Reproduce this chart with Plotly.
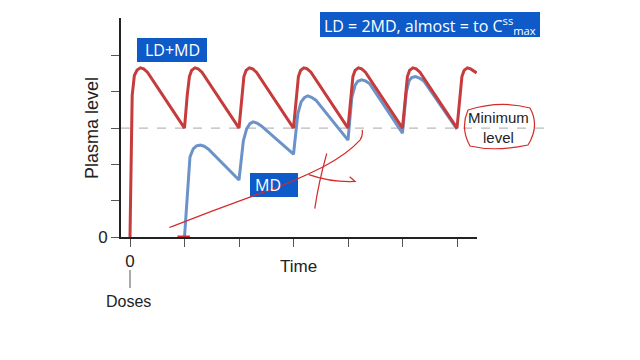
import plotly.graph_objects as go

# ---- data ----
ld_x = [0.0, 0.04, 0.08, 0.13, 0.19, 0.25, 0.32, 1.0,
        1.05, 1.09, 1.13, 1.19, 1.25, 1.32, 2.0,
        2.05, 2.09, 2.13, 2.19, 2.25, 2.32, 3.0,
        3.05, 3.09, 3.13, 3.19, 3.25, 3.32, 4.0,
        4.05, 4.09, 4.13, 4.19, 4.25, 4.32, 5.0,
        5.05, 5.09, 5.13, 5.19, 5.25, 5.32, 6.0,
        6.05, 6.09, 6.13, 6.19, 6.25, 6.32, 6.36]
ld_y = [0.0, 3.9, 4.45, 4.6, 4.66, 4.63, 4.54, 3.0,
        3.9, 4.42, 4.59, 4.66, 4.63, 4.54, 3.0,
        3.9, 4.42, 4.59, 4.66, 4.63, 4.54, 3.0,
        3.9, 4.42, 4.59, 4.66, 4.63, 4.54, 3.0,
        3.9, 4.42, 4.59, 4.66, 4.63, 4.54, 3.0,
        3.9, 4.42, 4.59, 4.66, 4.63, 4.54, 3.0,
        3.9, 4.42, 4.59, 4.66, 4.63, 4.56, 4.52]

md_x = [1.0, 1.1, 1.16, 1.22, 1.29, 1.36, 1.44, 2.0,
        2.08, 2.14, 2.2, 2.26, 2.33, 2.41, 3.0,
        3.08, 3.14, 3.2, 3.26, 3.33, 3.41, 4.0,
        4.07, 4.13, 4.18, 4.25, 4.32, 4.4, 5.0,
        5.07, 5.12, 5.17, 5.24, 5.31, 5.39, 6.0]
md_y = [0.0, 2.2, 2.43, 2.51, 2.53, 2.5, 2.42, 1.57,
        2.65, 2.98, 3.12, 3.17, 3.14, 3.06, 2.28,
        3.4, 3.72, 3.84, 3.89, 3.85, 3.77, 2.67,
        3.85, 4.18, 4.29, 4.33, 4.3, 4.22, 2.86,
        4.0, 4.3, 4.39, 4.42, 4.38, 4.3, 2.97]

y_label_tick = [0]
y_minor_ticks = [1, 2, 3, 4, 5]
x_label_tick = [0]
x_minor_ticks = [1, 2, 3, 4, 5, 6]
minimum_level = 3.0

RED = "#C63B3B"
BLUE = "#6B93C9"
BOX = "#0E5AC8"
INK = "#D42A2A"

# layout geometry (pixels)
L, T, R_EDGE, B_EDGE = 121, 18, 477, 237
W_PX = R_EDGE - L
H_PX = B_EDGE - T


def px(xp):
    return (xp - L) / W_PX


def py(yp):
    return (B_EDGE - yp) / H_PX


fig = go.Figure()
fig.add_trace(go.Scatter(x=md_x, y=md_y, mode="lines",
                         line=dict(color=BLUE, width=3), hoverinfo="skip"))
fig.add_trace(go.Scatter(x=ld_x, y=ld_y, mode="lines",
                         line=dict(color=RED, width=3), hoverinfo="skip"))

shapes = []
# dashed minimum level
shapes.append(dict(type="line", xref="paper", yref="y", x0=0, x1=px(548),
                   y0=minimum_level, y1=minimum_level,
                   line=dict(color="#A8A8A8", width=1, dash="dash"), layer="below"))
# boxes
shapes.append(dict(type="rect", xref="paper", yref="paper", x0=px(137), x1=px(207),
                   y0=py(62), y1=py(38), fillcolor=BOX, line=dict(width=0)))
shapes.append(dict(type="rect", xref="paper", yref="paper", x0=px(320), x1=px(540),
                   y0=py(37), y1=py(12), fillcolor=BOX, line=dict(width=0)))
shapes.append(dict(type="rect", xref="paper", yref="paper", x0=px(250), x1=px(298),
                   y0=py(197), y1=py(173), fillcolor=BOX, line=dict(width=0)))
# Doses marker line
shapes.append(dict(type="line", xref="paper", yref="paper", x0=px(130), x1=px(130),
                   y0=py(270), y1=py(288), line=dict(color="#555", width=1)))
# hand-drawn ink
shapes.append(dict(type="path", xref="x", yref="y",
                   path="M 0.72,0.26 L 0.79,0.30 Q 1.5,0.72 2.2,1.1 Q 2.9,1.45 3.54,1.93 Q 4.0,2.3 4.22,2.67 Q 4.28,2.8 4.26,2.95",
                   line=dict(color=INK, width=1.2)))
shapes.append(dict(type="path", xref="x", yref="y",
                   path="M 3.61,2.3 Q 3.46,1.5 3.39,0.78",
                   line=dict(color=INK, width=1.2)))
shapes.append(dict(type="path", xref="x", yref="y",
                   path="M 3.28,1.72 Q 3.7,1.5 4.13,1.53 L 4.03,1.66",
                   line=dict(color=INK, width=1.2)))
shapes.append(dict(type="line", xref="x", yref="y", x0=0.87, x1=1.1, y0=0.02, y1=0.02,
                   line=dict(color=INK, width=1.5)))
shapes.append(dict(type="path", xref="paper", yref="paper",
                   path=("M %f,%f Q %f,%f %f,%f Q %f,%f %f,%f Q %f,%f %f,%f Q %f,%f %f,%f Z" % (
                       px(468), py(110),
                       px(500), py(100), px(530), py(108),
                       px(540), py(126), px(528), py(145),
                       px(495), py(152), px(470), py(146),
                       px(460), py(128), px(468), py(110))),
                   line=dict(color=INK, width=1.2)))


def note(text, x, y, size, color, family, angle=0):
    return dict(text=text, xref="paper", yref="paper", x=px(x), y=py(y),
                xanchor="center", yanchor="middle", textangle=angle,
                showarrow=False, font=dict(family=family, size=size, color=color))


annotations = [
    note("LD+MD", 172, 50, 16, "white", "Open Sans"),
    note("LD = 2MD, almost = to C<sup>ss</sup><sub>max</sub>", 430, 25, 16, "white", "Open Sans"),
    note("MD", 268, 185, 16, "white", "Open Sans"),
    note("Minimum<br>level", 498, 127, 15, "#222", "Liberation Sans"),
    note("Plasma level", 92, 128, 18, "#222", "Liberation Sans", -90),
    note("Time", 298, 266, 17, "#222", "Liberation Sans"),
    note("Doses", 128, 301, 16, "#222", "Liberation Sans"),
]

tick_minor = dict(ticks="outside", ticklen=8, tickcolor="#555", tickwidth=1, showgrid=False)

fig.update_layout(
    width=640, height=360,
    margin=dict(l=L, r=640 - R_EDGE, t=T, b=360 - B_EDGE, pad=0),
    paper_bgcolor="white", plot_bgcolor="white",
    showlegend=False,
    shapes=shapes, annotations=annotations,
    xaxis=dict(range=[(L - 130) / 54.5, (R_EDGE - 130) / 54.5],
               tickvals=x_label_tick, ticktext=[str(v) for v in x_label_tick],
               ticks="outside", ticklen=8, tickcolor="#555", tickwidth=1,
               minor=dict(tickvals=x_minor_ticks, **tick_minor),
               showline=True, linecolor="#222", linewidth=2,
               showgrid=False, zeroline=False,
               tickfont=dict(family="Liberation Sans", size=17, color="#222")),
    yaxis=dict(range=[0, H_PX / 36.3],
               tickvals=y_label_tick, ticktext=[str(v) for v in y_label_tick],
               ticks="outside", ticklen=8, tickcolor="#555", tickwidth=1,
               minor=dict(tickvals=y_minor_ticks, **tick_minor),
               showline=True, linecolor="#222", linewidth=2,
               showgrid=False, zeroline=False,
               tickfont=dict(family="Liberation Sans", size=17, color="#222")),
)

fig.write_html("out.html")
